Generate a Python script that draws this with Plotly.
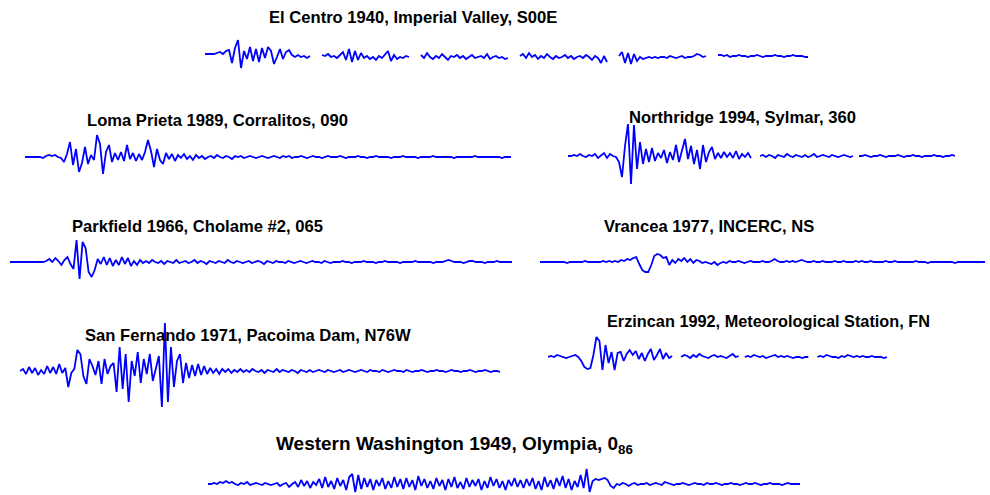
import plotly.graph_objects as go

W, H = 990, 495

# Ground-acceleration records (amplitude, arbitrary units; None marks a break in the record)
el_centro = [
    0, 0, 0, 0, 1, 2, 0, 3, 4, -9, 6, 14, -14, 3, -5, 7, -7, 5, -8, 6, -4, 7, 3, -10, -3, 5, -5, 2, 4, -1, -3, -1, -3, -2, -4, -2,
    None, None, None,
    -1, -2, 0, -3, -2, -4, -1, 2, -6, 5, -8, 3, -6, 1, -4, -2, -5, -3, -6, -2, -4, 0, 3, -7, -1, -5, -3, -4, -2, -3,
    None, None, None,
    -1, -4, 1, -3, -5, -2, -4, 0, -3, -6, -2, -3, -1, -4, -2, -5, -3, -1, -4, -3, -2, -4, 0, -5, -3, -2, -4, -3, -5, -4,
    None, None, None,
    -2, 0, -4, 1, -3, -1, -5, -2, -4, 0, -3, -5, -2, -4, -3, -1, -4, -2, -5, -3, -2, -4, -1, -3, -6, -2, -4, -9, -2, -8,
    None, None, None,
    -2, 2, -9, 1, -10, 0, -7, -3, -5, -4, -3, -4, -3, -4, -3, -3, -4, -2, -3, -4, -3, -2, -4, -3, -3, -2, 0, -1, -3, -2,
    None, None, None,
    -1, -1, -2, -1, -3, -2, -2, -1, -2, -2, -3, -2, -2, -1, -2, -3, -2, -2, -2, -1, -2, -2, -3, -2, -2, -1, -2, -2, -2, -3, -3,
]

loma_prieta = [
    0, 0, 0, 0, 0, 0, -1, 1, 2, 1, 2, 0, -1, -5, 3, 15, -8, 8, -15, -6, 10, -7, 2, -3, 22, 13, -17, 5, 12, -5,
    4, -3, 5, -4, 12, -2, 4, -4, 3, -3, 5, 17, 6, -10, 8, -3, -7, 4, -2, 3, -4, 2, -1, 3, -2, 1, -3, 2, -1, 1, -2,
    0, 1, -1, 2, 0, -1, 1, 0, -2, 1, 0, 1, -1, 0, 1, 0, -1, 0, 1, 0, -1,
    0, 1, 0, -1, 1, 0, 1, -1, 0, 0, 1, 0, -1, 0, 1, 0, 0, -1, 0, 1, 0, 0, 0, 1, 0, -1, 0, 0, 0, 1, 0, 0, -1, 0, 0, 1,
    0, 0, 0, 0, -1, 0, 0, 0, 1, 0, 0, 0, 0, -1, 0, 0, 0, 0, 1, 0, 0, 0, 0, 0, 0, -1, 0, 0, 0, 0, 0, 0, 1, 0, 0, 0,
    0, 0, 0, 0, 0, -1, 0, 0, 0,
]

northridge = [
    0, 0, 1, 0, 2, 0, -1, 1, 0, 2, -2, 1, 3, -2, 2, 0, -1,
    -6, -21, 10, 32, -28, 31, -13, 14, -8, 7, -6, 8, -5, 3, -2, 6, -7, 4, -4, 11, -6, 5, 17, -3, 10, -8, 6, -13, 11,
    -6, 4, 9, -3, 3, -2, 4, -1, 3, -2, 5, -3, 2, -1, 3, -2,
    None, None,
    0, 1, -1, 1, 0, -2, 1, 0, -1, 2, 0, -1, 1, 0, -1, 1, -1, 0, 2, -1, 0, 1, 0, -1, 1, 0, -1, 0, 1, 0, -1, 0,
    None,
    0, 0, 1, 0, -1, 0, 0, 1, 0, -1, 0, 0, 0, 1, 0, -1, 0, 0, 1, 0, 0, -1, 0, 0, 0, 1, 0, 0, -1, 0, 0, 1, 0,
]

parkfield = [
    0, 0, 0, 0, 0, 0, 0, 0, 0, 0, 0, 0,
    1, 3, 0, 4, 1, -3, 2, 5, -2,
    -7, 22, -17, 20, 14, -10, -15, -8, 3, -2, 5, -3, 4, -4, 2, -3, 5, -2, 4, -4, 1, -3, 2, -1,
    1, -1, 2, 0, -1, 1, -2, 1, 0, -1, 2, -1, 0, 1, -1, 0, 2, -1, 1, 0, -2, 1, 0, -1, 1, 0, -1, 2, 0, -1, 1, 0,
    -1, 0, 1, -1, 0, 1, 0, -2, 1, 0, -1, 1, 0, 0, -1, 1, 0, -1, 0, 1, 0, -1, 0, 1, 0, 0, -1, 1, 0, -1, 0,
    0, 0, 1, 0, 0, -1, 0, 0, 0, 1, 0, 0, 0, -1, 0, 0, 1, 0, 0, 0, 0, -1, 0, 0, 0, 0, 1, 0, 0, 0, 0, 0, -1, 0,
    0, 0, 1, 2, 1, 0, 0, 0, -1, 0, 1, 1, 0, 0, 0, -1, 0, 0, 0, 1, 0, 0, 0, 0, 0,
]

vrancea = [
    0, 0, 0, 0, 0, 0, 0, 0, 0, -1, 0, 0, 0, 0, 0, 1, 0, 0, 0, 0, 0, 1, 0, 1, 0, 1, 0, 2,
    1, 3, 2, 4, 5, -2, -8, -10, -10, -3, 6, 8, 7, 4, 5, -3, 2, -1, 3, 1, 4, 0, 3, -1, 2, 1, -1, 0, -1, -2, 0, -3, -1,
    0, -1, 1, 0, 0, 1, 0, -1, 0, 1, 0, 0, 0, 1, 0, 0, 1, 3, 1, 0, 0, 1, 0, 1, 0, 1, 2, 1, 0, 0, 1, 0, 0, 1,
    0, 0, 0, 1, 0, 0, 1, 0, 0, 0, 1, 0, 1, 0, 0, 1, 0, 0, 0, 0, 1, 0, 0, 1, 0, 0, 0, 0, 0, 0, 1, 0, 0, 0, -1,
    0, 0, 0, 0, 0, 0, 0, 0, -1, 0, 0, 0, 0, 0, 0, 0, 0, 0, 0,
]

san_fernando = [
    0, 2, -3, 4, -2, 3, -4, 1, -3, 5, -2, 4, -3, 7, -2, 3,
    -16, -2, 2, 21, 17, -5, -13, 12, 5, -4, 10, -13, 12, -3, 5, 8, -21, 24, -18, 17, -31, 10, -5, 19, -12, 12, -3,
    17, -10, 4, 15, -36, 48, -31, 24, -16, 10, 17, -12, 8, -7, 6, -5, 7, -4, 5, -3, 3, -2, 2, -3, 2, -1, 2, -2, 1,
    -1, 2, -1,
    1, -1, 2, 0, -1, 1, -2, 1, 0, -1, 2, -1, 1, 0, -1, 1, 0, -2, 1, 0, -1, 1, -1, 0, 1, 0, -1, 1, 0, -1, 0, 1, -1,
    0, 1, 0, -1, 0, 1, 0, -1, 1, 0, 0, -1, 1, 0, -1, 0, 1, 0, 0, -1, 1, 0, -1, 0, 0, 1, 0, -1, 0, 0, 1, 0, 0, -1,
    0, 1, 0, 0, -1, 0, 0, 1, 0, -1, 0, 0, 1, 0, -1, 0, 0, -1,
]

erzincan = [
    0, 1, 0, 2, 1, 0, -1, 0, 1, 2, 0,
    -4, -10, -12, -11, 2, 20, 16, -13, 12, -6, 5, -13, 4, 5, -4, 3, 7, 2, 6, -2, 4, -4, 3, 8, -3, 2, 8, -2, 4, -1, 1,
    None, None,
    0, 2, 1, -1, 2, 0, 3, 1, 0, -1, 1, 2, 0, 1, 0, -1, 1, 3, 0, 1,
    None,
    0, 1, 0, 2, 1, 0, 1, -1, 0, 1, 2, 0, 1, 0, 1, 0, -1, 0, 0, -1, 0, 0,
    None, None,
    0, 1, 0, 2, 1, 0, 0, -1, 1, 0, 2, 1, 0, 1, 0, 1, 0, 0, 1, 0, 0, 0, -1, 0,
]

western_washington = [
    0, 0, 1, 0, 2, 1, 3, 1, 2, 0, -1, 1, 0, 2, -1, 0, 1, 0, -1, 1, 0, -1, 0, 1, -2, 0, 1, -3, 0,
    2, -3, 4, -2, 3, -4, 2, -1,
    5, -4, 7, -3, 3, -5, 6, -2, 4, -6, 7,
    10, -8, 9, -5, 6, -3,
    5, -6, 4, -2, 6, -5, 3, -4, 7, -3, 5,
    -5, 6, -3, 4, -6, 8, -2, 5, -4, 3, -5, 6, -2, 4, -6, 5, -3, 7, -4, 2, -5, 6, -3, 4, -2, 5, -6, 3, -4, 7,
    -2, 5, -4, 3, -6, 4, -2, 6, -3, 4,
    -4, 5, -2, 6, -5, 3, -6, 7, -3, 4, -5, 6, -2, 8, -4, 5, -6, 3, -3, 9, -4, 15,
    -8, 3, 5, 4, 5, 6, 4, -2, -4,
    0, -1, 1, 0, -2, 0, 1, -1, 0, 0, 1, -1, 0, 1, 0, -1, 2, 1, 0, -1, 0, 0, 1, 0, -1, 0, 1, 0, 0, -1, 1, 0,
    0, 1, 0, -1, 0, 0, 1, 0, 0, -1, 0, 1, 0, 0, 1, 0, -1, 0, 0, 1, 0, 0, 0, -1, 0, 1, 0, 0, 0, 0,
]

titles = [
    "El Centro 1940, Imperial Valley, S00E",
    "Loma Prieta 1989, Corralitos, 090",
    "Northridge 1994, Sylmar, 360",
    "Parkfield 1966, Cholame #2, 065",
    "Vrancea 1977, INCERC, NS",
    "San Fernando 1971, Pacoima Dam, N76W",
    "Erzincan 1992, Meteorological Station, FN",
    "Western Washington 1949, Olympia, 0<sub>86</sub>",
]

records = [el_centro, loma_prieta, northridge, parkfield, vrancea,
           san_fernando, erzincan, western_washington]

# Panel placement in page pixels:
# trace left, trace right, baseline y, title centre x, title centre y, title font size
placement = [
    (205, 808, 54, 413, 17, 16.6),
    (25, 511, 157, 217, 120, 16.6),
    (568, 955, 156, 742, 118, 16.6),
    (10, 512, 262, 197, 226, 16.6),
    (540, 985, 262, 709, 226, 16.6),
    (20, 500, 371, 248, 335, 16.6),
    (548, 887, 357, 768, 321, 16.3),
    (208, 800, 484, 454, 445, 19),
]

fig = go.Figure()
layout = {}
annotations = []
for i, (rec, title, (x0, x1, yb, tx, ty, fs)) in enumerate(zip(records, titles, placement), start=1):
    xa = "x" if i == 1 else f"x{i}"
    ya = "y" if i == 1 else f"y{i}"
    n = len(rec)
    fig.add_trace(go.Scatter(
        x=list(range(n)), y=rec, mode="lines", xaxis=xa, yaxis=ya,
        line=dict(color="#0000ff", width=1.8), connectgaps=False,
        hoverinfo="skip", showlegend=False,
    ))
    up = min(48, yb)
    down = min(48, H - yb)
    layout["xaxis" if i == 1 else f"xaxis{i}"] = dict(
        domain=[x0 / W, x1 / W], range=[0, n - 1], visible=False,
        anchor=ya, fixedrange=True,
    )
    layout["yaxis" if i == 1 else f"yaxis{i}"] = dict(
        domain=[(H - yb - down) / H, (H - yb + up) / H], range=[-down, up],
        visible=False, anchor=xa, fixedrange=True,
    )
    annotations.append(dict(
        text=f"<b>{title}</b>", x=tx / W, y=1 - ty / H, xref="paper", yref="paper",
        xanchor="center", yanchor="middle", showarrow=False,
        font=dict(family="Liberation Sans, Arial, sans-serif", size=fs, color="black"),
    ))

fig.update_layout(
    width=W, height=H, margin=dict(l=0, r=0, t=0, b=0),
    paper_bgcolor="white", plot_bgcolor="rgba(0,0,0,0)",
    annotations=annotations, **layout,
)

fig.write_html("out.html", config={"displayModeBar": False})
